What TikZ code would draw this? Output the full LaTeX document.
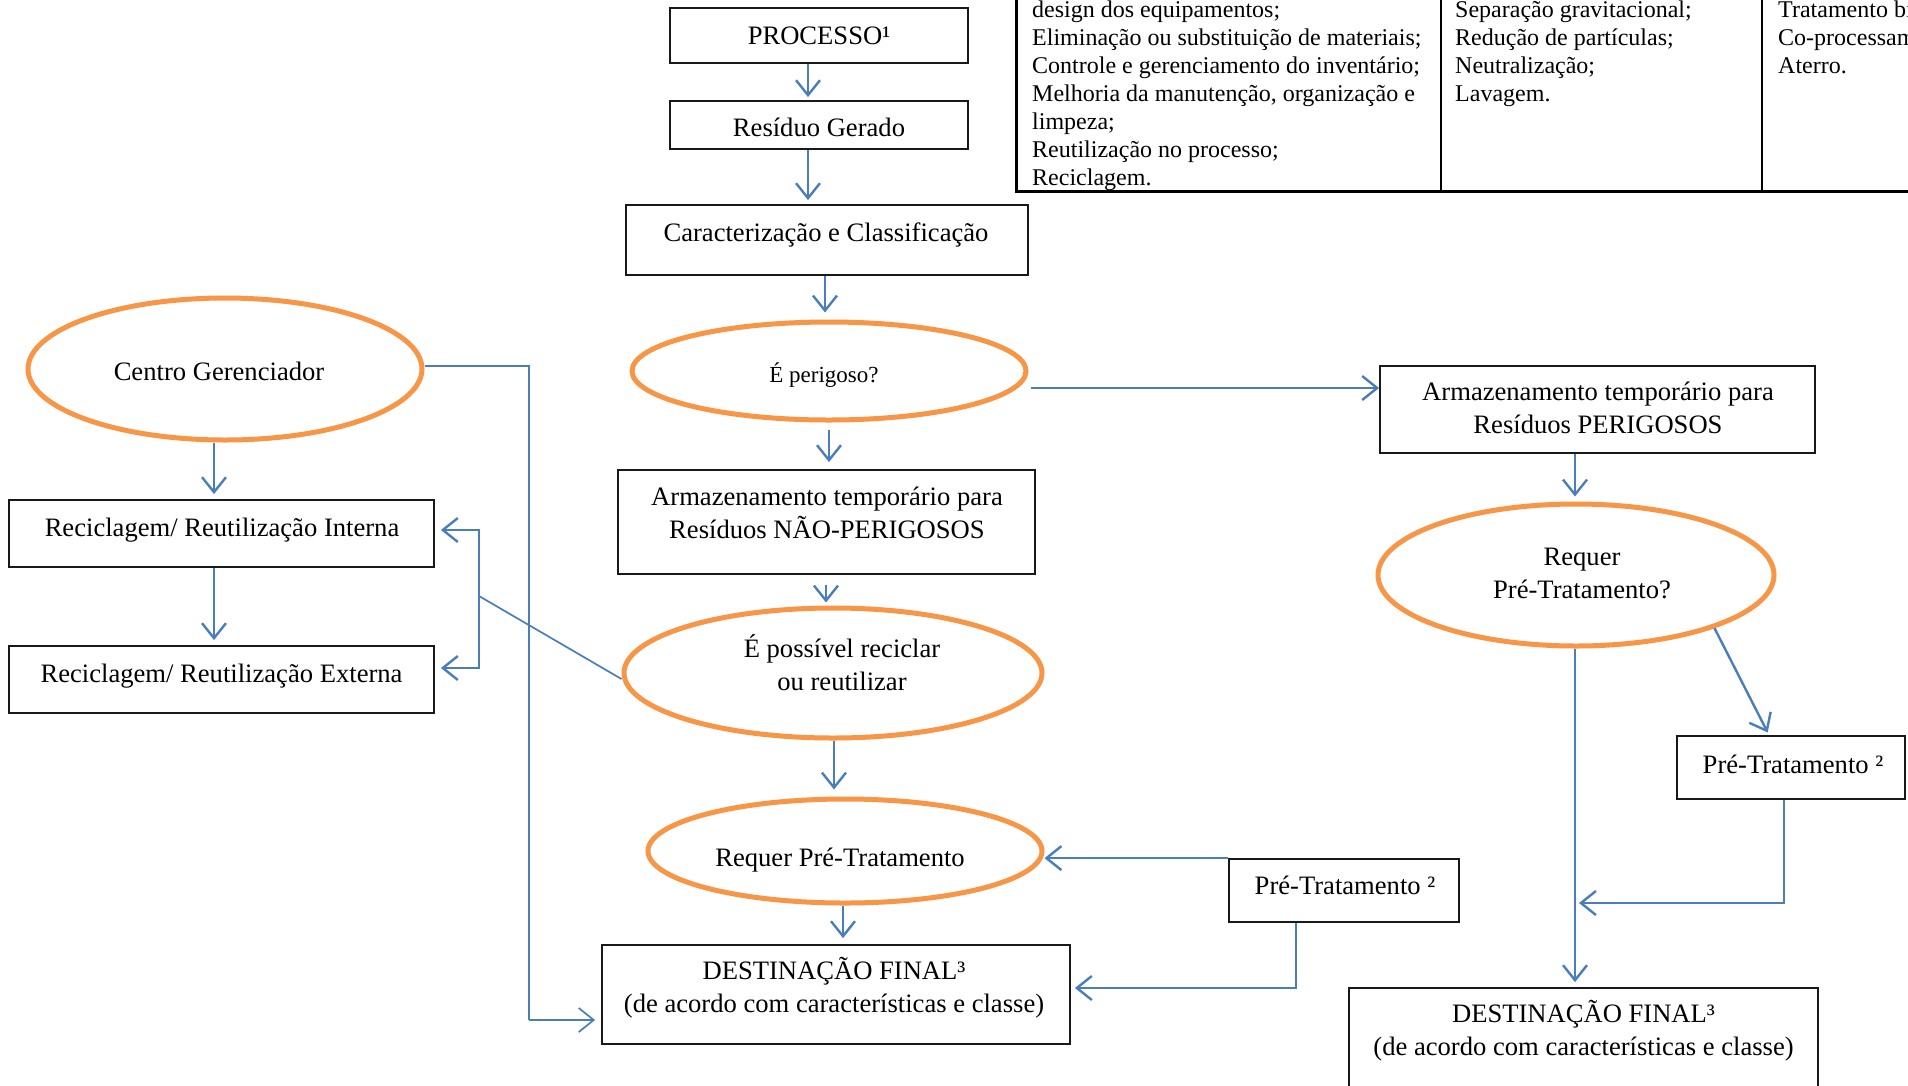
\documentclass[tikz,border=0pt]{standalone}
\usepackage{fontspec}
\setmainfont{Liberation Serif}
\usetikzlibrary{arrows.meta,shapes.geometric,calc}
\definecolor{flowblue}{HTML}{4A7EBB}
\definecolor{ringorange}{HTML}{F79646}

\begin{document}
\begin{tikzpicture}[x=1pt,y=-1pt,
  box/.style={draw=black!90,line width=1.8pt,inner sep=0pt},
  ring/.style={ellipse,draw=ringorange,line width=5pt,inner sep=0pt},
  lbl/.style={inner sep=0pt,align=center,font=\fontsize{26.6}{33}\selectfont},
  lblsmall/.style={inner sep=0pt,font=\fontsize{23}{28}\selectfont},
  tbl/.style={inner sep=0pt,anchor=north west,align=left,font=\fontsize{24}{27.95}\selectfont},
  flow/.style={draw=flowblue,line width=2.4pt,-{Straight Barb[length=15pt,width=24pt]}},
  flowthin/.style={draw=flowblue,line width=1.7pt},
  flowthinarr/.style={flowthin,-{Straight Barb[length=15pt,width=24pt]}}]

\useasboundingbox (0,0) rectangle (1908,1085);
\fill[white] (0,0) rectangle (1908,1085);
\clip (0,0) rectangle (1908,1085);

% ---- measures table (top right) ----
\draw[line width=3pt] (1016,-40) -- (1016,191) -- (1960,191);
\draw[line width=1.8pt] (1441,-40) -- (1441,191) (1762,-40) -- (1762,191);
\node[tbl] (tcol1) at (1032,0.8) {design dos equipamentos;\\Eliminação ou substituição de materiais;\\Controle e gerenciamento do inventário;\\Melhoria da manutenção, organização e\\limpeza;\\Reutilização no processo;\\Reciclagem.};
\node[tbl] (tcol2) at (1455,0.8) {Separação gravitacional;\\Redução de partículas;\\Neutralização;\\Lavagem.};
\node[tbl] (tcol3) at (1778,0.8) {Tratamento biológico;\\Co-processamento;\\Aterro.};

% ---- central column ----
\node[box,minimum width=298pt,minimum height=55pt] (proc) at (819,35.5) {};
\node[lbl] (procT) at (819,35.5) {PROCESSO¹};
\node[box,minimum width=298pt,minimum height=48pt] (res) at (819,125) {};
\node[lbl] (resT) at (819,127) {Resíduo Gerado};
\node[box,minimum width=402pt,minimum height=70pt] (car) at (827,240) {};
\node[lbl] (carT) at (826,234.5) {Caracterização e Classificação};
\node[ring,minimum width=394pt,minimum height=98pt] (perig) at (829,371) {};
\node[lblsmall] (perigT) at (824,375) {É perigoso?};
\node[box,minimum width=417pt,minimum height=104pt] (anp) at (826.5,522) {};
\node[lbl] (anpT) at (827,512.5) {Armazenamento temporário para\\Resíduos NÃO-PERIGOSOS};
\node[ring,minimum width=418pt,minimum height=130pt] (poss) at (833,673) {};
\node[lbl] (possT) at (842,662.5) {É possível reciclar\\ou reutilizar};
\node[ring,minimum width=394pt,minimum height=104pt] (rpt) at (845,851) {};
\node[lbl] (rptT) at (840,860.5) {Requer Pré-Tratamento};
\node[box,minimum width=468pt,minimum height=99pt] (dest1) at (836,994.5) {};
\node[lbl] (dest1T) at (834,988) {DESTINAÇÃO FINAL³\\(de acordo com características e classe)};
\node[box,minimum width=230pt,minimum height=63pt] (pt1) at (1344,890.5) {};
\node[lbl] (pt1T) at (1345,885) {Pré-Tratamento ²};

% ---- left column ----
\node[ring,minimum width=394pt,minimum height=142pt] (cg) at (225,369) {};
\node[lbl] (cgT) at (219,371) {Centro Gerenciador};
\node[box,minimum width=425pt,minimum height=67pt] (rint) at (221.5,533.5) {};
\node[lbl] (rintT) at (222,530.5) {Reciclagem/ Reutilização Interna};
\node[box,minimum width=425pt,minimum height=67pt] (rext) at (221.5,679.5) {};
\node[lbl] (rextT) at (221.5,676.5) {Reciclagem/ Reutilização Externa};

% ---- right column ----
\node[box,minimum width=435pt,minimum height=87pt] (ap) at (1597.5,409.5) {};
\node[lbl] (apT) at (1598,407.5) {Armazenamento temporário para\\Resíduos PERIGOSOS};
\node[ring,minimum width=396pt,minimum height=142pt] (rptq) at (1576,575) {};
\node[lbl] (rptqT) at (1582,573) {Requer\\Pré-Tratamento?};
\node[box,minimum width=228pt,minimum height=63pt] (pt2) at (1791,767.5) {};
\node[lbl] (pt2T) at (1793,764) {Pré-Tratamento ²};
\node[box,minimum width=469pt,minimum height=120pt] (dest2) at (1583.5,1048) {};
\node[lbl] (dest2T) at (1583.5,1031) {DESTINAÇÃO FINAL³\\(de acordo com características e classe)};

% ---- helper points ----
\coordinate (cgbend) at (529,1020);
\coordinate (split) at (479,596);
\coordinate (merge) at (1579,903);

% ---- connectors, central column ----
\draw[flow,shorten >=3pt] (proc.south -| 808,0) -- (res.north -| 808,0);
\draw[flow,shorten >=4pt] (res.south -| 808,0) -- (car.north -| 808,0);
\draw[flow,shorten >=7pt] (car.south -| 825,0) -- (perig.north -| 825,0);
\draw[flow,shorten <=7pt,shorten >=7pt] (perig.south) -- (anp.north -| perig.south);
\draw[flow,shorten <=2pt] (perig.east |- 0,388) -- (ap.west |- 0,388);
\draw[flow,shorten <=10pt,shorten >=3pt] (anp.south -| 826,0) -- (poss.north -| 826,0);
\draw[flow,shorten >=7pt] (poss.south -| 834,0) -- (rpt.north -| 834,0);
\draw[flow,shorten >=6pt] (rpt.south -| 843,0) -- (dest1.north -| 843,0);
\draw[flow] (pt1.north west) -- (rpt.east |- pt1.north west);
\draw[flow,shorten >=4pt] (pt1.south -| 1296,0) |- (dest1.east |- 0,988);

% ---- connectors, left column ----
\draw[flowthin] (cg.east |- 0,366) -| (cgbend);
\draw[flowthinarr,shorten >=6pt] (cgbend) -- (dest1.west |- cgbend);
\draw[flow,shorten >=5pt] (cg.south -| 214,0) -- (rint.north -| 214,0);
\draw[flow,shorten >=5pt] (rint.south -| 214,0) -- (rext.north -| 214,0);
\draw[flowthin] ($(poss.west)+(0,6)$) -- (split);
\draw[flow,shorten >=6pt] (split) |- (rint.east |- 0,530);
\draw[flow,shorten >=6pt] (split) |- (rext.east |- 0,668);

% ---- connectors, right column ----
\draw[flow,shorten >=5pt] (ap.south -| 1575,0) -- (rptq.north -| 1575,0);
\draw[flow,shorten >=5pt] (rptq.south -| 1575,0) -- (dest2.north -| 1575,0);
\draw[flow,shorten >=3pt] (rptq.-21) -- (pt2.north -| 1769,0);
\draw[flow] (pt2.south -| 1784,0) |- (merge);

\end{tikzpicture}
\end{document}
